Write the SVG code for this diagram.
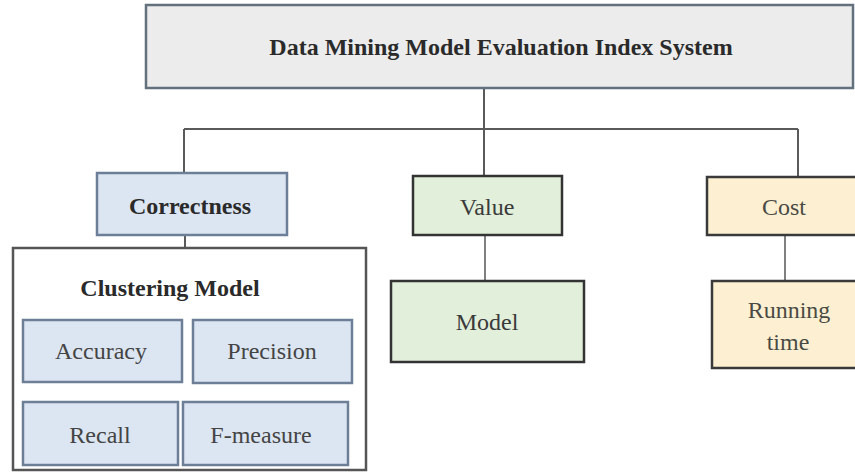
<svg xmlns="http://www.w3.org/2000/svg" width="855" height="472" viewBox="0 0 855 472">
<style>
text{font-family:'Liberation Serif','Times New Roman',serif;font-size:24px;text-anchor:middle;fill:#2a2a2a}
.b{font-weight:bold}
.box{stroke-width:2.5}
.blue{fill:#dce6f2;stroke:#6d7f96}
.green{fill:#e2efda;stroke:#333}
.yellow{fill:#fdf0d2;stroke:#3a3a3a}
.conn{stroke:#5a5a5a;stroke-width:2;fill:none}
.lt{stroke:#808080}
.gt{fill:#3a3a3a}
.yt{fill:#4a4a44}
.it{fill:#444}
</style>
<rect width="855" height="472" fill="#fff"/>
<g id="connectors">
<path class="conn" d="M484 88V175M184 129H798M184 129V173M798 129V177M185 235V248"/>
<path class="conn lt" d="M485 235V281M785 235V281"/>
</g>
<g id="root">
<rect class="box" x="146" y="5" width="707" height="83" fill="#ececec" stroke="#63717e"/>
<text class="b" x="501" y="55">Data Mining Model Evaluation Index System</text>
</g>
<g id="correctness">
<rect class="box blue" x="97" y="173" width="190" height="62"/>
<text class="b" x="190" y="214">Correctness</text>
</g>
<g id="value">
<rect class="box green" x="413" y="176" width="149" height="59"/>
<text class="gt" x="487" y="215">Value</text>
</g>
<g id="cost">
<rect class="box yellow" x="707" y="177" width="160" height="58"/>
<text class="yt" x="784" y="215">Cost</text>
</g>
<g id="model">
<rect class="box green" x="391" y="281" width="193" height="81"/>
<text class="gt" x="487" y="330">Model</text>
</g>
<g id="running-time">
<rect class="box yellow" x="712" y="281" width="155" height="87"/>
<text class="yt" x="789" y="318">Running</text>
<text class="yt" x="788" y="350">time</text>
</g>
<g id="clustering-model">
<rect class="box" x="13" y="248" width="353" height="222" fill="#fff" stroke="#555"/>
<text class="b" x="170" y="296">Clustering Model</text>
</g>
<g id="accuracy">
<rect class="box blue" x="23" y="320" width="159" height="62"/>
<text class="it" x="101" y="359">Accuracy</text>
</g>
<g id="precision">
<rect class="box blue" x="193" y="320" width="159" height="63"/>
<text class="it" x="272" y="359">Precision</text>
</g>
<g id="recall">
<rect class="box blue" x="23" y="402" width="155" height="63"/>
<text class="it" x="100" y="443">Recall</text>
</g>
<g id="f-measure">
<rect class="box blue" x="183" y="402" width="165" height="63"/>
<text class="it" x="261" y="443">F-measure</text>
</g>
</svg>
